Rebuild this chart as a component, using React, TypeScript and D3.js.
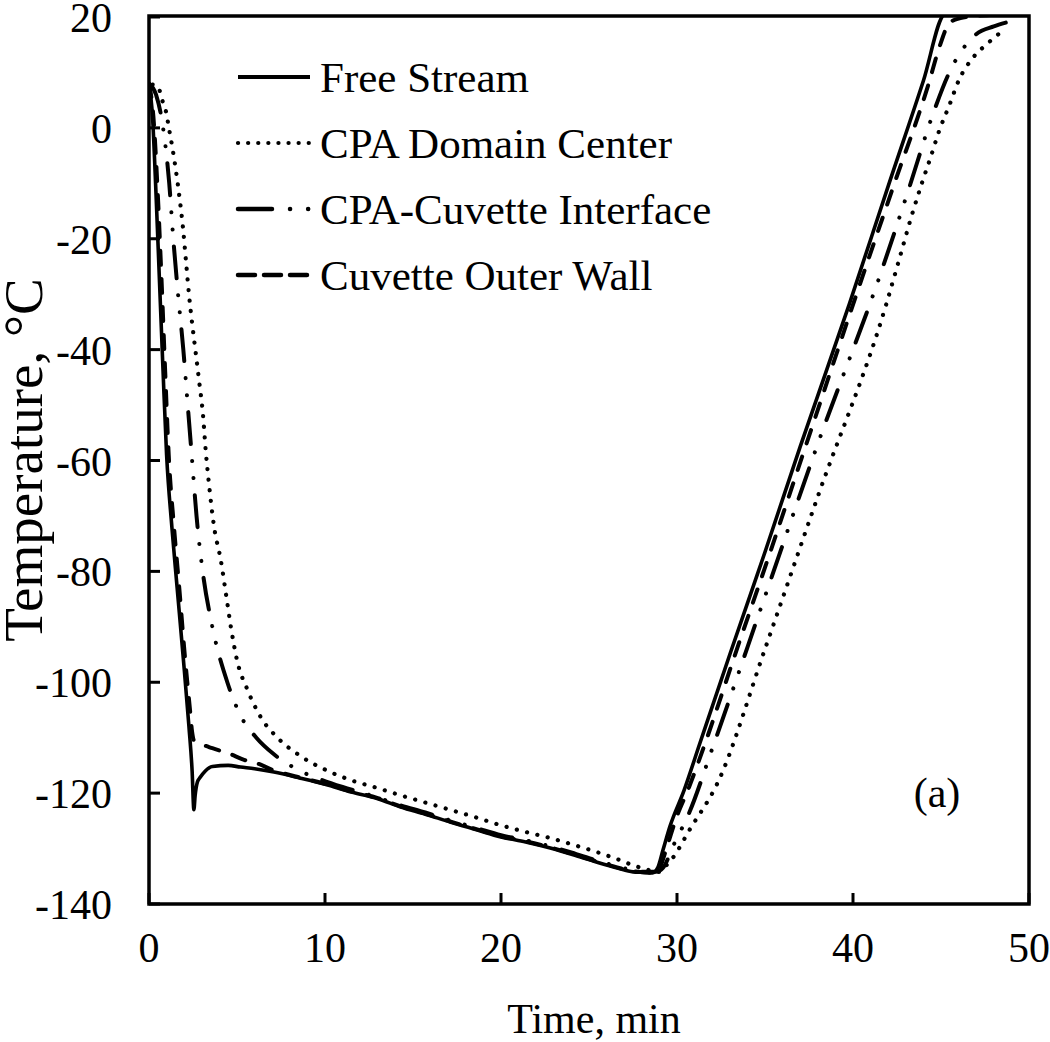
import React from "react";
import * as d3 from "d3";

// ---- Data (time in min, temperature in °C) ----
const freeStreamTime = [0, 0.2, 0.4, 0.6, 0.8, 1.0, 1.3, 1.6, 1.93, 2.27, 2.45, 2.55, 2.62, 2.75, 2.9, 3.2, 3.6, 4.5, 5.2, 6.0, 7.1, 8.6, 10.0, 11.5, 13.0, 14.3, 15.7, 17.1, 18.6, 20.0, 21.4, 22.8, 24.2, 25.6, 26.6, 27.5, 28.2, 28.6, 28.9, 29.2, 29.6, 30.4, 31.3, 33, 35, 37, 39.8, 42, 44, 45.2, 46, 48.7];
const freeStreamTemp = [8, 2, -12, -28, -44, -59, -72, -83, -95, -108, -116, -123, -120.5, -118, -117.2, -116, -115.2, -115, -115.3, -115.6, -116.2, -117.3, -118.4, -119.8, -121.0, -122.5, -123.8, -125.2, -126.6, -127.9, -128.8, -129.9, -131.2, -132.6, -133.5, -134.2, -134.3, -134.4, -133.5, -130.3, -126, -119.5, -111, -95, -76.5, -57.5, -31.7, -10.5, 8.5, 20.5, 21, 21];

const domainCenterTime = [0.2, 0.5, 0.75, 0.96, 1.13, 1.35, 1.53, 1.75, 1.93, 2.1, 2.27, 2.46, 2.66, 2.86, 3.06, 3.23, 3.4, 3.7, 4.08, 4.37, 4.65, 5.0, 5.6, 6.35, 7.3, 8.6, 10.1, 11.5, 12.9, 14.3, 15.7, 17.1, 18.6, 20, 21.4, 22.8, 24.2, 25.6, 26.6, 27.5, 28.3, 29.0, 29.4, 29.8, 30.7, 32.3, 35, 38, 41.9, 42.6, 43.3, 43.9, 44.4, 44.9, 45.5, 46, 46.8, 47.6, 48.5];
const domainCenterTemp = [7.8, 7.5, 5, 3, 0, -4, -7.7, -13, -18, -24, -30, -35.5, -40.7, -46, -51.5, -58.5, -64, -72, -78, -84, -90, -96, -101.4, -106.3, -110, -113.3, -115.9, -117.7, -119, -120.4, -121.7, -123, -124.4, -125.8, -127, -128.1, -129.4, -130.8, -131.9, -133, -133.8, -134.2, -133, -131.5, -126.7, -118.2, -94, -66.5, -31.7, -24, -16.2, -10.1, -5.4, -0.5, 4.3, 8.5, 12.6, 15.1, 17.5];

const interfaceTime = [0, 0.4, 0.8, 1.15, 1.38, 1.65, 1.95, 2.2, 2.45, 2.7, 3.05, 3.6, 4.45, 5.2, 6.1, 7.1, 8.6, 9.8, 11, 12.5, 14.3, 15.7, 17.1, 18.6, 20, 21.4, 22.8, 24.2, 25.6, 26.6, 27.5, 28.2, 28.8, 29.2, 29.8, 30.7, 32, 35, 38, 41.6, 43.1, 44.6, 45.4, 46.3, 47, 48, 48.7];
const interfaceTemp = [8, 6, 0, -10, -20, -30, -40, -50, -60, -70, -80, -90, -100, -106, -110, -113, -116, -117.6, -118.9, -120.3, -122.2, -123.5, -124.9, -126.3, -127.6, -128.5, -129.6, -130.9, -132.3, -133.2, -133.9, -134.2, -134.2, -133.5, -129.4, -123.5, -112, -84.5, -57, -26, -11.7, 3, 9.5, 14.5, 16.9, 18.3, 19];

const outerWallTime = [0, 0.25, 0.5, 0.72, 0.92, 1.12, 1.42, 1.72, 2.03, 2.33, 2.45, 2.55, 2.85, 3.6, 4.5, 5.4, 6.2, 7.1, 7.5, 8.6, 10, 11.5, 13, 14.3, 15.7, 17.1, 18.6, 20, 21.4, 22.8, 24.2, 25.6, 26.6, 27.5, 28.2, 28.7, 29.0, 29.4, 29.9, 30.7, 31.6, 33.3, 35.3, 37.3, 40.2, 42.3, 44.3, 44.9, 45.5, 46.1, 47, 48.7];
const outerWallTemp = [8, 2, -12, -28, -44, -59, -72, -83, -95, -105, -109, -110.5, -111, -111.9, -112.8, -114, -114.7, -115.9, -116.3, -117.2, -118.3, -119.7, -120.9, -122.4, -123.7, -125.1, -126.5, -127.8, -128.7, -129.8, -131.1, -132.5, -133.4, -134.1, -134.3, -134.4, -133.6, -130, -125, -118.8, -111, -95, -76.5, -57.5, -30, -10.5, 8, 14.5, 19, 19.8, 20.2, 20.5];

const xTicks = [0, 10, 20, 30, 40, 50];
const yTicks = [-140, -120, -100, -80, -60, -40, -20, 0, 20];

const legendLabels = ["Free Stream", "CPA Domain Center", "CPA-Cuvette Interface", "Cuvette Outer Wall"];

const FONT = "'Liberation Serif', 'Times New Roman', Times, serif";

export default function App() {
  const W = 1050, H = 1042;
  const left = 149, right = 1029, top = 16, bottom = 904;
  const x = d3.scaleLinear().domain([0, 50]).range([left, right]);
  const y = d3.scaleLinear().domain([-140, 20]).range([bottom, top + 1]);

  const mk = (ts: number[], vs: number[]) =>
    d3.line<number>().x((d, i) => x(ts[i])).y((d) => y(d)).curve(d3.curveMonotoneX)(vs) || "";

  const series = [
    { path: mk(freeStreamTime, freeStreamTemp), dash: undefined as string | undefined, width: 3.6, legendDash: undefined as string | undefined, legendWidth: 4 },
    { path: mk(domainCenterTime, domainCenterTemp), dash: "0.1 10.5", width: 4.2, legendDash: "0.1 10", legendWidth: 4.2 },
    { path: mk(interfaceTime, interfaceTemp), dash: "32 17 0.1 17 0.1 17", width: 4, legendDash: "34 18 0.1 18 0.1 100", legendWidth: 4.5 },
    { path: mk(outerWallTime, outerWallTemp), dash: "14 14", width: 4, legendDash: "17 9", legendWidth: 4.5 },
  ];

  const legendRows = [77, 143, 209, 275];

  return (
    <svg width={W} height={H} style={{ position: "absolute", left: 0, top: 0, display: "block", background: "#fff" }}>
      <defs>
        <clipPath id="plotClip">
          <rect x={left} y={top} width={right - left} height={bottom - top} />
        </clipPath>
      </defs>
      <rect x={0} y={0} width={W} height={H} fill="#fff" />

      <g clipPath="url(#plotClip)">
        {series.map((s, i) => (
          <path key={i} d={s.path} fill="none" stroke="#000" strokeWidth={s.width}
            strokeDasharray={s.dash} strokeLinecap={s.dash ? "round" : "butt"} strokeLinejoin="round" />
        ))}
      </g>

      {/* ticks */}
      {yTicks.map((t) => (
        <line key={"yt" + t} x1={left} x2={left + 11} y1={y(t)} y2={y(t)} stroke="#000" strokeWidth={3} />
      ))}
      {xTicks.map((t) => (
        <line key={"xt" + t} x1={x(t)} x2={x(t)} y1={bottom} y2={bottom - 11} stroke="#000" strokeWidth={3} />
      ))}

      {/* frame */}
      <rect x={left} y={top} width={right - left} height={bottom - top} fill="none" stroke="#000" strokeWidth={3.5} />

      {/* tick labels */}
      {yTicks.map((t) => (
        <text key={"yl" + t} x={112} y={y(t) + 15} textAnchor="end" fontFamily={FONT} fontSize={42} fill="#000">{t}</text>
      ))}
      {xTicks.map((t) => (
        <text key={"xl" + t} x={x(t)} y={962} textAnchor="middle" fontFamily={FONT} fontSize={42} fill="#000">{t}</text>
      ))}

      {/* axis titles */}
      <text x={594} y={1033} textAnchor="middle" fontFamily={FONT} fontSize={42} fill="#000">Time, min</text>
      <text transform="translate(42,460) rotate(-90)" textAnchor="middle" fontFamily={FONT} fontSize={55} fill="#000">Temperature, °C</text>

      {/* legend */}
      {series.map((s, i) => (
        <g key={"lg" + i}>
          <line x1={238} x2={310} y1={legendRows[i]} y2={legendRows[i]} stroke="#000" strokeWidth={s.legendWidth}
            strokeDasharray={s.legendDash} strokeLinecap={s.legendDash ? "round" : "butt"} />
          <text x={320} y={legendRows[i] + 15} fontFamily={FONT} fontSize={43} fill="#000">{legendLabels[i]}</text>
        </g>
      ))}

      <text x={937} y={807} textAnchor="middle" fontFamily={FONT} fontSize={42} fill="#000">(a)</text>
    </svg>
  );
}
